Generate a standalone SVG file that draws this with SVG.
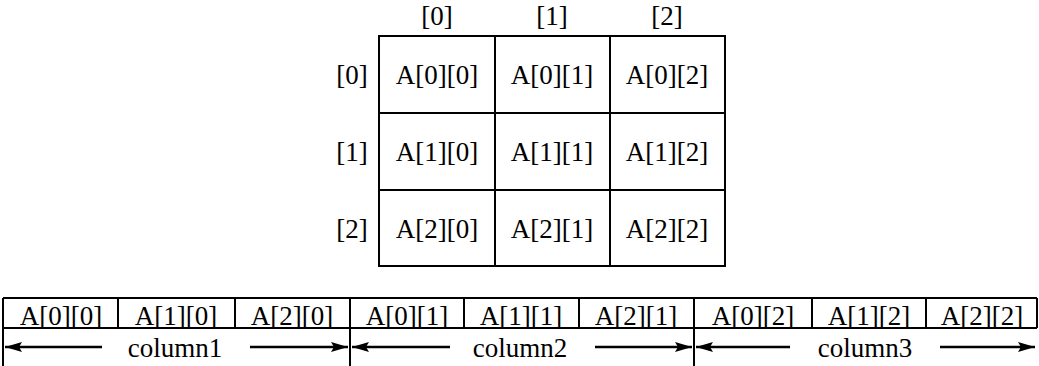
<svg xmlns="http://www.w3.org/2000/svg" width="1039" height="366" viewBox="0 0 1039 366">
<style>
text{font-family:"Liberation Serif","Times New Roman",serif;font-size:27px;fill:#000;text-anchor:middle}
.ln{stroke:#000;stroke-width:2;fill:none}
.ar{stroke:#000;stroke-width:2.5;fill:none;marker-end:url(#ah)}
</style>
<defs>
<marker id="ah" viewBox="0 0 17 10" refX="17" refY="5" markerWidth="17" markerHeight="10" markerUnits="userSpaceOnUse" orient="auto">
<path d="M0,0 L17,5 L0,10 L3,5 Z" fill="#000"/>
</marker>
</defs>
<rect width="1039" height="366" fill="#fff"/>
<g id="col-headers">
<text x="437" y="25">[0]</text>
<text x="552" y="25">[1]</text>
<text x="667" y="25">[2]</text>
</g>
<g id="row-headers">
<text x="352" y="84">[0]</text>
<text x="352" y="161">[1]</text>
<text x="352" y="238">[2]</text>
</g>
<g id="matrix">
<rect class="ln" x="379" y="36" width="346" height="230"/>
<line class="ln" x1="495" y1="36" x2="495" y2="266"/>
<line class="ln" x1="610" y1="36" x2="610" y2="266"/>
<line class="ln" x1="379" y1="113" x2="725" y2="113"/>
<line class="ln" x1="379" y1="190" x2="725" y2="190"/>
<text x="437" y="84">A[0][0]</text><text x="552" y="84">A[0][1]</text><text x="667" y="84">A[0][2]</text>
<text x="437" y="161">A[1][0]</text><text x="552" y="161">A[1][1]</text><text x="667" y="161">A[1][2]</text>
<text x="437" y="238">A[2][0]</text><text x="552" y="238">A[2][1]</text><text x="667" y="238">A[2][2]</text>
</g>
<g id="linear">
<line class="ln" x1="3" y1="298" x2="1037" y2="298"/>
<line class="ln" x1="3" y1="328" x2="1037" y2="328"/>
<line class="ln" x1="3" y1="298" x2="3" y2="366"/>
<line class="ln" x1="118" y1="298" x2="118" y2="328"/>
<line class="ln" x1="235" y1="298" x2="235" y2="328"/>
<line class="ln" x1="350" y1="298" x2="350" y2="366"/>
<line class="ln" x1="464" y1="298" x2="464" y2="328"/>
<line class="ln" x1="579" y1="298" x2="579" y2="328"/>
<line class="ln" x1="694" y1="298" x2="694" y2="366"/>
<line class="ln" x1="812" y1="298" x2="812" y2="328"/>
<line class="ln" x1="926" y1="298" x2="926" y2="328"/>
<line class="ln" x1="1037" y1="298" x2="1037" y2="328"/>
<text x="61" y="325">A[0][0]</text><text x="176" y="325">A[1][0]</text><text x="292" y="325">A[2][0]</text>
<text x="407" y="325">A[0][1]</text><text x="521" y="325">A[1][1]</text><text x="636" y="325">A[2][1]</text>
<text x="753" y="325">A[0][2]</text><text x="869" y="325">A[1][2]</text><text x="982" y="325">A[2][2]</text>
<text x="175" y="357">column1</text>
<text x="520" y="357">column2</text>
<text x="865" y="357">column3</text>
</g>
<g id="connectors">
<line class="ar" x1="102" y1="347" x2="5" y2="347"/>
<line class="ar" x1="250" y1="347" x2="348" y2="347"/>
<line class="ar" x1="450" y1="347" x2="352" y2="347"/>
<line class="ar" x1="595" y1="347" x2="692" y2="347"/>
<line class="ar" x1="790" y1="347" x2="696" y2="347"/>
<line class="ar" x1="940" y1="347" x2="1035" y2="347"/>
</g>
</svg>
